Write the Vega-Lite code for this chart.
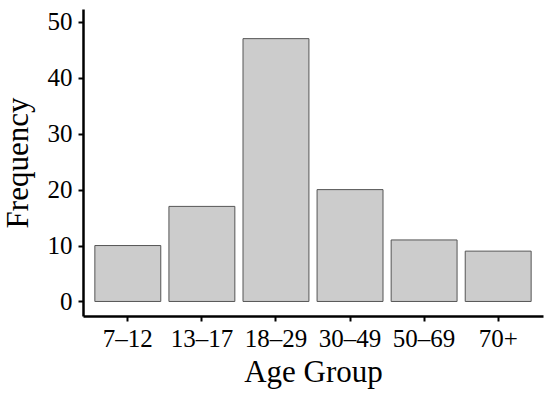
{
  "$schema": "https://vega.github.io/schema/vega-lite/v6.json",
  "width": 460,
  "height": 307,
  "autosize": "none",
  "padding": {"left": 83, "top": 9, "right": 7, "bottom": 81},
  "background": "white",
  "config": {"view": {"stroke": null}, "font": "Liberation Serif"},
  "data": {"values": [
    {"group": "7–12", "freq": 10},
    {"group": "13–17", "freq": 17},
    {"group": "18–29", "freq": 47},
    {"group": "30–49", "freq": 20},
    {"group": "50–69", "freq": 11},
    {"group": "70+", "freq": 9}
  ]},
  "mark": {"type": "bar", "fill": "#cccccc", "stroke": "#555555", "strokeWidth": 1},
  "encoding": {
    "x": {
      "field": "group", "type": "nominal", "sort": null,
      "scale": {"paddingInner": 0.11, "paddingOuter": 0.16},
      "axis": {
        "title": "Age Group", "labelAngle": 0, "labelFontSize": 25, "titleFontSize": 31,
        "titleFontWeight": "normal", "labelColor": "black", "titleColor": "black",
        "domainColor": "black", "domainWidth": 2.5, "tickColor": "black", "tickWidth": 2,
        "tickSize": 5, "labelPadding": 5, "titlePadding": 6, "labelFont": "Liberation Serif", "titleFont": "Liberation Serif"
      }
    },
    "y": {
      "field": "freq", "type": "quantitative",
      "scale": {"domain": [-2.6, 52.3], "nice": false, "zero": false},
      "axis": {
        "title": "Frequency", "values": [0, 10, 20, 30, 40, 50], "grid": false,
        "labelFontSize": 25, "titleFontSize": 31, "titleFontWeight": "normal",
        "labelColor": "black", "titleColor": "black",
        "domainColor": "black", "domainWidth": 2.5, "tickColor": "black", "tickWidth": 2,
        "tickSize": 5, "labelPadding": 6, "titlePadding": 13, "labelFont": "Liberation Serif", "titleFont": "Liberation Serif"
      }
    },
    "y2": {"datum": 0}
  }
}
